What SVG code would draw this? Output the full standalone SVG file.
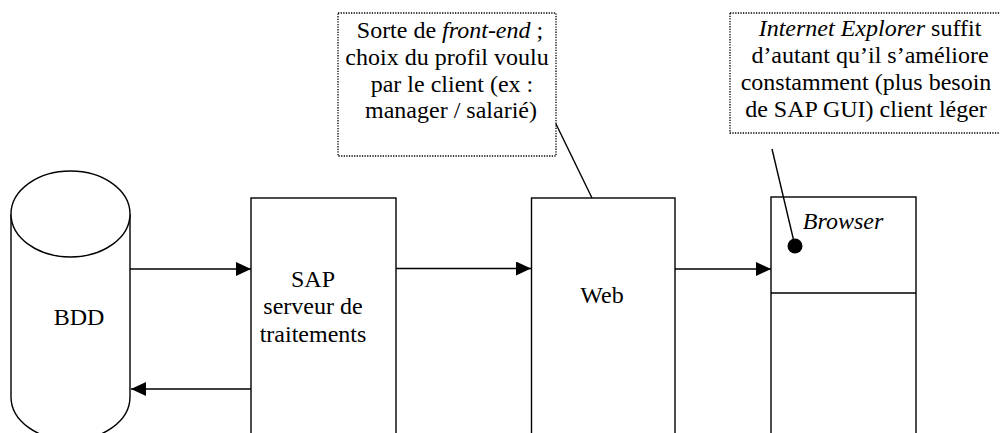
<svg xmlns="http://www.w3.org/2000/svg" width="1000" height="433" viewBox="0 0 1000 433">
<style>
.s{fill:#fff;stroke:#000;stroke-width:1.4}
.n{fill:none;stroke:#000;stroke-width:1.4}
.d{fill:#fff;stroke:#000;stroke-width:1.3;stroke-dasharray:1.3 1.3}
text{font-family:"Liberation Serif","Times New Roman",serif;font-size:24px;fill:#000;text-anchor:middle}
.i{font-style:italic}
</style>
<defs>
<marker id="ah" viewBox="0 0 15 14" refX="15" refY="7" markerWidth="15" markerHeight="14" markerUnits="userSpaceOnUse" orient="auto">
<path d="M0,0 L15,7 L0,14 Z" fill="#000"/>
</marker>
</defs>
<rect width="1000" height="433" fill="#fff"/>
<g id="bdd">
<path class="s" d="M11,214 L11,397 A59.5,43 0 0 0 130,397 L130,214"/>
<ellipse class="s" cx="70.5" cy="214" rx="59.5" ry="43"/>
<text x="79" y="325">BDD</text>
</g>
<g id="sap">
<rect class="s" x="251" y="198" width="145" height="260"/>
<text x="313" y="287">SAP</text>
<text x="313" y="314">serveur de</text>
<text x="313" y="342">traitements</text>
</g>
<g id="web">
<rect class="s" x="531.5" y="198" width="143.5" height="260"/>
<text x="602" y="303">Web</text>
</g>
<g id="browser">
<rect class="s" x="771" y="197" width="145" height="260"/>
<line class="n" x1="771" y1="293" x2="916" y2="293"/>
<text class="i" x="843" y="229">Browser</text>
</g>
<g id="note-web">
<rect class="d" x="338" y="13" width="218" height="143"/>
<text x="450" y="38">Sorte de <tspan class="i">front-end</tspan> ;</text>
<text x="447" y="65">choix du profil voulu</text>
<text x="452" y="92">par le client (ex :</text>
<text x="451" y="118">manager / salarié)</text>
</g>
<g id="note-browser">
<rect class="d" x="730" y="13" width="272" height="120"/>
<text x="870" y="36"><tspan class="i">Internet Explorer</tspan> suffit</text>
<text x="870" y="63">d’autant qu’il s’améliore</text>
<text x="866" y="90">constamment (plus besoin</text>
<text x="866" y="117">de SAP GUI) client léger</text>
</g>
<g id="connectors">
<line class="n" x1="130" y1="269" x2="251" y2="269" marker-end="url(#ah)"/>
<line class="n" x1="251" y1="389" x2="131" y2="389" marker-end="url(#ah)"/>
<line class="n" x1="396" y1="268.5" x2="531" y2="268.5" marker-end="url(#ah)"/>
<line class="n" x1="675" y1="269" x2="771" y2="269" marker-end="url(#ah)"/>
<line class="n" x1="556" y1="124" x2="592" y2="198"/>
<line class="n" x1="772" y1="149" x2="795" y2="246"/>
<circle cx="795" cy="246" r="7.5" fill="#000"/>
</g>
</svg>
